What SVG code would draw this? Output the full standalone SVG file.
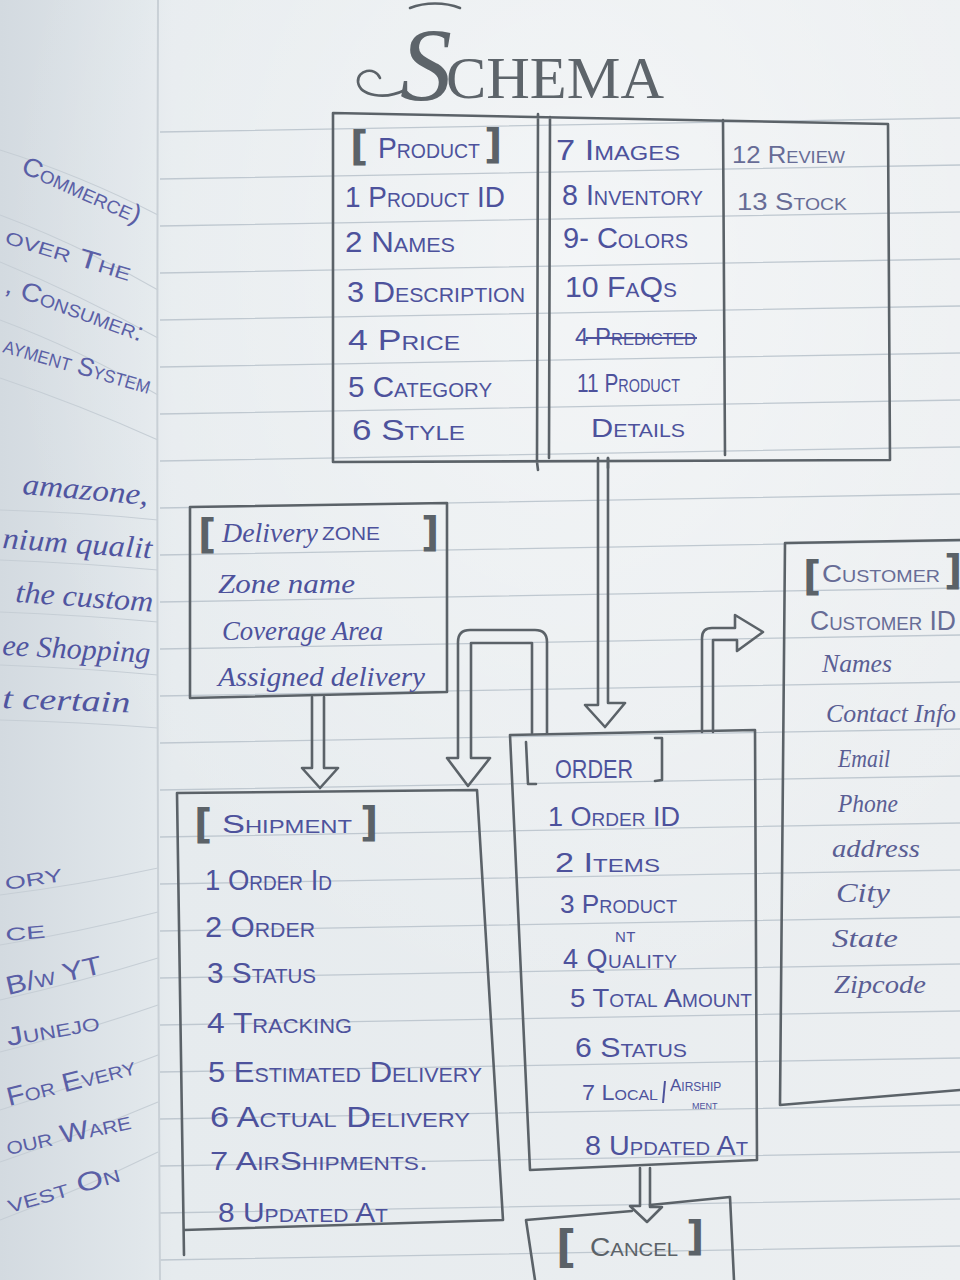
<svg xmlns="http://www.w3.org/2000/svg" width="960" height="1280" viewBox="0 0 960 1280">
<defs>
<linearGradient id="bg" x1="0" y1="0" x2="1" y2="0">
<stop offset="0" stop-color="#d3dae0"/>
<stop offset="0.15" stop-color="#e1e7eb"/>
<stop offset="0.18" stop-color="#e6ebee"/>
<stop offset="1" stop-color="#eceff1"/>
</linearGradient>
<radialGradient id="hl" cx="0.6" cy="0.2" r="0.6">
<stop offset="0" stop-color="#ffffff" stop-opacity="0.45"/>
<stop offset="1" stop-color="#ffffff" stop-opacity="0"/>
</radialGradient>
<style>
.rule{stroke:#bfc8d0;stroke-width:1.3;fill:none}
.lrule{stroke:#c6ced5;stroke-width:1.1;fill:none}
.box{stroke:#5b6268;stroke-width:2.6;fill:none;stroke-linejoin:round;stroke-linecap:round}
.arrow{stroke:#5b6268;stroke-width:2.6;fill:none;stroke-linejoin:round;stroke-linecap:round}
.ink{font-family:"Liberation Sans",Arial,sans-serif;font-variant:small-caps;fill:#4d529c;font-size:29px}
.ink2{font-family:"Liberation Sans",Arial,sans-serif;font-variant:small-caps;fill:#676c96;font-size:24px}
.cur{font-family:"Liberation Serif","Times New Roman",serif;font-style:italic;fill:#4d529c;font-size:28px}
.cur2{font-family:"Liberation Serif","Times New Roman",serif;font-style:italic;fill:#5a5e94;font-size:25px}
.brk{font-family:"DejaVu Sans",sans-serif;font-weight:bold;fill:#5b6268;font-size:40px}
.side{font-family:"Liberation Sans",Arial,sans-serif;font-variant:small-caps;fill:#5a5fa6;font-size:26px}
.sidec{font-family:"Liberation Serif","Times New Roman",serif;font-style:italic;fill:#5055a0;font-size:30px}
.title{font-family:"Liberation Serif","Times New Roman",serif;fill:#5d646a}
</style>
</defs>
<rect x="0" y="0" width="960" height="1280" fill="url(#bg)"/>
<rect x="0" y="0" width="960" height="1280" fill="url(#hl)"/>

<g id="ruled-lines">
<path class="rule" d="M160,132 L960,118 M160,179 L960,165 M160,226 L960,212 M160,273 L960,259 M160,320 L960,306 M160,367 L960,353 M160,414 L960,400 M160,461 L960,447 M160,508 L960,494 M160,555 L960,541 M160,602 L960,588 M160,649 L960,635 M160,696 L960,682 M160,743 L960,729 M160,790 L960,776 M160,837 L960,823 M160,884 L960,870 M160,931 L960,917 M160,978 L960,964 M160,1025 L960,1011 M160,1072 L960,1058 M160,1119 L960,1105 M160,1166 L960,1152 M160,1213 L960,1199 M160,1260 L960,1246"/>
<path class="lrule" d="M0,150 Q80,175 158,215 M0,215 Q80,245 158,290 M0,262 Q80,295 158,338 M0,320 Q80,350 158,395 M0,378 Q80,405 158,440 M0,510 Q80,512 158,520 M0,560 Q80,563 158,570 M0,612 Q80,615 158,622 M0,665 Q80,668 158,675 M0,720 Q80,722 158,728 M0,895 Q80,885 158,868 M0,945 Q80,932 158,912 M0,1000 Q80,982 158,958 M0,1052 Q80,1032 158,1005 M0,1110 Q80,1085 158,1055 M0,1162 Q80,1135 158,1102 M0,1220 Q80,1190 158,1152"/>
<path d="M158,0 Q156,640 160,1280" stroke="#c9d0d6" stroke-width="2" fill="none"/>
</g>

<g id="left-page">
<text class="side" transform="translate(20,172) rotate(24)" textLength="128" lengthAdjust="spacingAndGlyphs">Commerce)</text>
<text class="side" transform="translate(4,243) rotate(17)" textLength="130" lengthAdjust="spacingAndGlyphs">over The</text>
<text class="side" transform="translate(4,292) rotate(20)" textLength="145" lengthAdjust="spacingAndGlyphs">, Consumer:</text>
<text class="side" transform="translate(2,352) rotate(16)" textLength="152" lengthAdjust="spacingAndGlyphs">ayment System</text>
<text class="sidec" transform="translate(22,494) rotate(5)" textLength="126" lengthAdjust="spacingAndGlyphs">amazone,</text>
<text class="sidec" transform="translate(2,548) rotate(4)" textLength="150" lengthAdjust="spacingAndGlyphs">nium qualit</text>
<text class="sidec" transform="translate(15,602) rotate(4)" textLength="138" lengthAdjust="spacingAndGlyphs">the custom</text>
<text class="sidec" transform="translate(2,655) rotate(3)" textLength="148" lengthAdjust="spacingAndGlyphs">ee Shopping</text>
<text class="sidec" transform="translate(2,708) rotate(2)" textLength="128" lengthAdjust="spacingAndGlyphs">t certain</text>
<text class="side" transform="translate(6,890) rotate(-9)" textLength="58" lengthAdjust="spacingAndGlyphs">ory</text>
<text class="side" transform="translate(6,941) rotate(-5)" textLength="40" lengthAdjust="spacingAndGlyphs">ce</text>
<text class="side" transform="translate(8,995) rotate(-13)" textLength="98" lengthAdjust="spacingAndGlyphs">B/w YT</text>
<text class="side" transform="translate(8,1046) rotate(-10)" textLength="94" lengthAdjust="spacingAndGlyphs">Junejo</text>
<text class="side" transform="translate(9,1106) rotate(-14)" textLength="132" lengthAdjust="spacingAndGlyphs">For Every</text>
<text class="side" transform="translate(8,1155) rotate(-12)" textLength="127" lengthAdjust="spacingAndGlyphs">our Ware</text>
<text class="side" transform="translate(10,1213) rotate(-16)" textLength="116" lengthAdjust="spacingAndGlyphs">vest On</text>
</g>

<g id="title">
<path class="arrow" d="M405,90 C385,100 360,96 358,82 C357,70 375,66 380,78 M410,8 C425,2 445,2 460,8" stroke-width="2.2"/>
<text class="title" x="400" y="100" font-size="104" font-style="italic">S</text>
<text class="title" x="446" y="98" font-size="60" textLength="218" lengthAdjust="spacingAndGlyphs">CHEMA</text>
</g>

<g id="connectors">
<path class="arrow" d="M312,697 V768 H302 L320,788 L338,768 H324 V697"/>
<path class="arrow" d="M547,733 V642 Q547,630 535,630 H470 Q458,630 458,642 V758 H447 L468,786 L490,758 H471 V643 H532 V733"/>
<path class="arrow" d="M598,458 V705 H585 L605,727 L625,703 H608 V458"/>
<path class="arrow" d="M702,732 V638 Q702,628 712,628 H735 V615 L763,632 L737,651 V640 H713 V732"/>
<path class="arrow" d="M640,1168 V1206 H630 L647,1222 L662,1207 H650 V1168"/>
</g>

<g id="product">
<path class="box" d="M333,113 L888,124 L890,460 L333,462 Z M538,114 L537,462 M550,117 L549,458 M723,120 L725,455 M537,462 L538,470 M608,458 L608,468"/>
<text class="brk" x="350" y="160">[</text>
<text class="ink" x="378" y="158" textLength="102" lengthAdjust="spacingAndGlyphs">Product</text>
<text class="brk" x="484" y="158">]</text>
<text class="ink" x="345" y="207" textLength="160" lengthAdjust="spacingAndGlyphs">1 Product ID</text>
<text class="ink" x="345" y="252" textLength="110" lengthAdjust="spacingAndGlyphs">2 Names</text>
<text class="ink" x="347" y="302" textLength="178" lengthAdjust="spacingAndGlyphs">3 Description</text>
<text class="ink" x="348" y="350" textLength="112" lengthAdjust="spacingAndGlyphs">4 Price</text>
<text class="ink" x="348" y="397" textLength="144" lengthAdjust="spacingAndGlyphs">5 Category</text>
<text class="ink" x="352" y="440" textLength="113" lengthAdjust="spacingAndGlyphs">6 Style</text>
<text class="ink" x="556" y="160" textLength="124" lengthAdjust="spacingAndGlyphs">7 Images</text>
<text class="ink" x="562" y="205" textLength="141" lengthAdjust="spacingAndGlyphs">8 Inventory</text>
<text class="ink" x="563" y="248" textLength="125" lengthAdjust="spacingAndGlyphs">9- Colors</text>
<text class="ink" x="565" y="297" textLength="112" lengthAdjust="spacingAndGlyphs">10 FaQs</text>
<text class="ink" x="575" y="345" style="font-size:23px" textLength="121" lengthAdjust="spacingAndGlyphs">4 Predicted</text>
<line x1="586" y1="338" x2="697" y2="338" stroke="#4d529c" stroke-width="1.8"/>
<text class="ink" x="577" y="392" style="font-size:26px" textLength="103" lengthAdjust="spacingAndGlyphs">11 Product</text>
<text class="ink" x="591" y="437" style="font-size:26px" textLength="94" lengthAdjust="spacingAndGlyphs">Details</text>
<text class="ink2" x="732" y="163" textLength="113" lengthAdjust="spacingAndGlyphs">12 Review</text>
<text class="ink2" x="737" y="210" textLength="110" lengthAdjust="spacingAndGlyphs">13 Stock</text>
</g>

<g id="delivery-zone">
<path class="box" d="M190,507 L447,503 L447,692 L190,698 Z"/>
<text class="brk" x="198" y="548">[</text>
<text class="cur" x="222" y="542" textLength="96" lengthAdjust="spacingAndGlyphs">Delivery</text>
<text class="ink" x="322" y="540" style="font-size:19px" textLength="58" lengthAdjust="spacingAndGlyphs">ZONE</text>
<text class="brk" x="421" y="546">]</text>
<text class="cur" x="218" y="593" textLength="137" lengthAdjust="spacingAndGlyphs">Zone name</text>
<text class="cur" x="222" y="640" textLength="161" lengthAdjust="spacingAndGlyphs">Coverage Area</text>
<text class="cur" x="218" y="686" textLength="207" lengthAdjust="spacingAndGlyphs">Assigned delivery</text>
</g>

<g id="shipment">
<path class="box" d="M177,793 L477,790 L503,1220 L184,1230 M177,793 L184,1255"/>
<text class="brk" x="194" y="838">[</text>
<text class="ink" x="222" y="833" style="font-size:26px" textLength="130" lengthAdjust="spacingAndGlyphs">Shipment</text>
<text class="brk" x="360" y="836">]</text>
<text class="ink" x="205" y="890" textLength="127" lengthAdjust="spacingAndGlyphs">1 Order Id</text>
<text class="ink" x="205" y="937" textLength="110" lengthAdjust="spacingAndGlyphs">2 Order</text>
<text class="ink" x="207" y="983" textLength="109" lengthAdjust="spacingAndGlyphs">3 Status</text>
<text class="ink" x="207" y="1033" textLength="145" lengthAdjust="spacingAndGlyphs">4 Tracking</text>
<text class="ink" x="208" y="1082" textLength="274" lengthAdjust="spacingAndGlyphs">5 Estimated Delivery</text>
<text class="ink" x="210" y="1127" textLength="260" lengthAdjust="spacingAndGlyphs">6 Actual Delivery</text>
<text class="ink" x="210" y="1170" style="font-size:26px" textLength="218" lengthAdjust="spacingAndGlyphs">7 AirShipments.</text>
<text class="ink" x="218" y="1222" style="font-size:27px" textLength="170" lengthAdjust="spacingAndGlyphs">8 Updated At</text>
</g>

<g id="order">
<path class="box" d="M510,735 L755,730 L757,1160 L530,1170 Z M526,742 L528,784 L536,784 M655,738 L662,738 L662,780 L655,781"/>
<text class="ink" x="555" y="778" style="font-size:25px" textLength="78" lengthAdjust="spacingAndGlyphs">ORDER</text>
<text class="ink" x="548" y="826" style="font-size:27px" textLength="132" lengthAdjust="spacingAndGlyphs">1 Order ID</text>
<text class="ink" x="555" y="872" style="font-size:27px" textLength="105" lengthAdjust="spacingAndGlyphs">2 Items</text>
<text class="ink" x="560" y="913" style="font-size:26px" textLength="117" lengthAdjust="spacingAndGlyphs">3 Product</text>
<text class="ink" x="563" y="968" style="font-size:27px" letter-spacing="0.5">4 Quality<tspan x="615" y="942" style="font-size:15px">NT</tspan></text>
<text class="ink" x="570" y="1007" style="font-size:26px" textLength="182" lengthAdjust="spacingAndGlyphs">5 Total Amount</text>
<text class="ink" x="575" y="1057" style="font-size:27px" textLength="112" lengthAdjust="spacingAndGlyphs">6 Status</text>
<text class="ink" x="582" y="1100" style="font-size:22px" textLength="76" lengthAdjust="spacingAndGlyphs">7 Local</text>
<line x1="665" y1="1081" x2="663" y2="1103" stroke="#4d529c" stroke-width="2"/>
<text class="ink" x="670" y="1091" style="font-size:17px">Airship<tspan x="692" y="1109" style="font-size:13px">ment</tspan></text>
<text class="ink" x="585" y="1155" style="font-size:27px" textLength="163" lengthAdjust="spacingAndGlyphs">8 Updated At</text>
</g>

<g id="cancel">
<path class="box" d="M535,1280 L526,1220 L632,1211 M650,1205 L730,1197 L734,1280"/>
<text class="brk" x="556" y="1262" style="font-size:44px">[</text>
<text class="ink" x="590" y="1256" style="font-size:25px;fill:#5b6268" textLength="88" lengthAdjust="spacingAndGlyphs">Cancel</text>
<text class="brk" x="686" y="1250">]</text>
</g>

<g id="customer">
<path class="box" d="M960,540 L785,543 L780,1105 L960,1090"/>
<text class="brk" x="803" y="590">[</text>
<text class="ink2" x="822" y="582" textLength="118" lengthAdjust="spacingAndGlyphs">Customer</text>
<text class="brk" x="944" y="584">]</text>
<text class="ink2" x="810" y="630" style="font-size:27px" textLength="146" lengthAdjust="spacingAndGlyphs">Customer ID</text>
<text class="cur2" x="822" y="672" textLength="70" lengthAdjust="spacingAndGlyphs">Names</text>
<text class="cur2" x="826" y="722" textLength="130" lengthAdjust="spacingAndGlyphs">Contact Info</text>
<text class="cur2" x="838" y="767" textLength="52" lengthAdjust="spacingAndGlyphs">Email</text>
<text class="cur2" x="838" y="812" textLength="60" lengthAdjust="spacingAndGlyphs">Phone</text>
<text class="cur2" x="832" y="857" textLength="88" lengthAdjust="spacingAndGlyphs">address</text>
<text class="cur2" x="836" y="902" style="font-size:28px" textLength="54" lengthAdjust="spacingAndGlyphs">City</text>
<text class="cur2" x="832" y="947" textLength="66" lengthAdjust="spacingAndGlyphs">State</text>
<text class="cur2" x="834" y="993" textLength="92" lengthAdjust="spacingAndGlyphs">Zipcode</text>
</g>
</svg>
